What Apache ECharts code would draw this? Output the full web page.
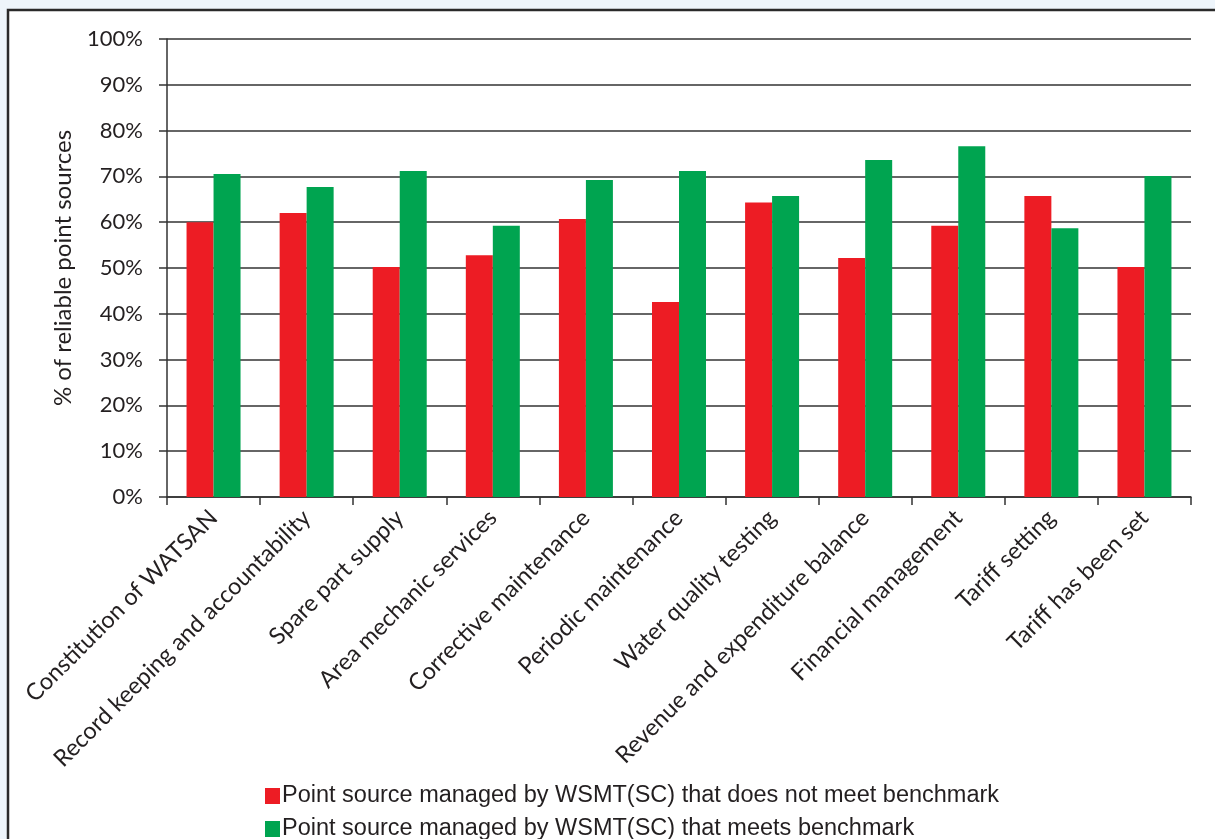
<!DOCTYPE html>
<html>
<head>
<meta charset="utf-8">
<script src="https://cdn.jsdelivr.net/npm/echarts@6/dist/echarts.min.js"></script>
<style>
	html, body { margin: 0; padding: 0; background: #eef5fb; }
	#chart { width: 1215px; height: 839px; }
</style>
</head>
<body>
<div id="chart"></div>
<script>
const categories = [
	'Constitution of WATSAN',
	'Record keeping and accountability',
	'Spare part supply',
	'Area mechanic services',
	'Corrective maintenance',
	'Periodic maintenance',
	'Water quality testing',
	'Revenue and expenditure balance',
	'Financial management',
	'Tariff setting',
	'Tariff has been set'
];
const notMeetName = 'Point source managed by WSMT(SC) that does not meet benchmark';
const meetsName = 'Point source managed by WSMT(SC) that meets benchmark';
const notMeetValues = [ 60.0, 62.0, 50.2, 52.8, 60.7, 42.6, 64.3, 52.2, 59.2, 65.7, 50.2 ];
const meetsValues = [ 70.5, 67.7, 71.2, 59.2, 69.2, 71.2, 65.7, 73.6, 76.6, 58.7, 70.1 ];

const axisFont = 'Lato, "Open Sans", sans-serif';
const textColor = '#231f20';
const chart = echarts.init( document.getElementById( 'chart' ) );

chart.setOption( {
	backgroundColor: '#eef5fb',
	animation: false,
	graphic: [ {
		type: 'rect',
		z: -10,
		shape: { x: 8, y: 10, width: 1250, height: 900 },
		style: { fill: '#ffffff', stroke: '#2a2a2a', lineWidth: 2.5 }
	} ],
	grid: { left: 167, right: 24, top: 39, bottom: 342 },
	legend: {
		orient: 'vertical',
		left: 260,
		top: 779,
		height: 120,
		itemWidth: 15,
		itemHeight: 16,
		itemGap: 9,
		icon: 'rect',
		textStyle: {
			fontSize: 23.5,
			lineHeight: 23,
			color: textColor,
			fontFamily: '"Liberation Sans", Arial, sans-serif',
			padding: [ 0, 0, 0, -3 ]
		},
		data: [ notMeetName, meetsName ]
	},
	xAxis: {
		type: 'category',
		data: categories,
		axisLine: { lineStyle: { color: '#333', width: 1.5 } },
		axisTick: { show: true, length: 8, lineStyle: { color: '#333', width: 1.5 } },
		axisLabel: {
			interval: 0,
			rotate: 45,
			fontSize: 23.5,
			color: textColor,
			fontFamily: axisFont,
			margin: 17
		}
	},
	yAxis: {
		type: 'value',
		min: 0,
		max: 100,
		interval: 10,
		name: '% of reliable point sources',
		nameLocation: 'middle',
		nameGap: 92,
		nameRotate: 90,
		nameTextStyle: { fontSize: 24, color: textColor, fontFamily: axisFont },
		axisLine: { show: true, lineStyle: { color: '#333', width: 1.5 } },
		axisTick: { show: true, length: 8, lineStyle: { color: '#333', width: 1.5 } },
		axisLabel: {
			formatter: '{value}%',
			fontSize: 22,
			color: textColor,
			fontFamily: axisFont,
			margin: 24
		},
		splitLine: { lineStyle: { color: '#333', width: 1.5 } }
	},
	series: [
		{
			name: notMeetName,
			type: 'bar',
			data: notMeetValues,
			barWidth: 27,
			barGap: '0%',
			itemStyle: { color: '#ed1c24' }
		},
		{
			name: meetsName,
			type: 'bar',
			data: meetsValues,
			barWidth: 27,
			barGap: '0%',
			itemStyle: { color: '#00a450' }
		}
	]
} );
</script>
</body>
</html>
